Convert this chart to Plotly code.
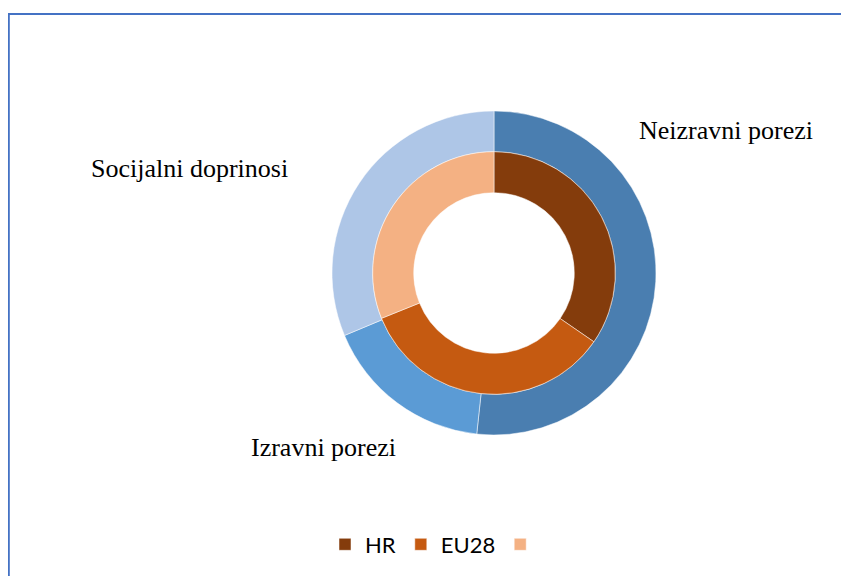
import plotly.graph_objects as go

# Outer ring (blue) categories and shares
outer_labels = ["Neizravni porezi", "Izravni porezi", "Socijalni doprinosi"]
outer_values = [51.7, 17.0, 31.3]
outer_colors = ["#4A7EB0", "#5B9BD5", "#AEC6E7"]

# Inner ring (orange) categories and shares
inner_labels = ["HR", "EU28", " "]
inner_values = [34.6, 34.3, 31.1]
inner_colors = ["#843C0C", "#C55A11", "#F4B183"]

OFF = 8  # page body margin
W, H = 849 - OFF, 576 - OFF
cx, cy = 494 - OFF, 273 - OFF
r_out, r_mid, r_in = 162, 121.3, 80.3


def px(x):
    return (x - OFF) / W


def py(y):
    return 1 - (y - OFF) / H


def dom(r):
    return dict(x=[(cx - r) / W, (cx + r) / W], y=[1 - (cy + r) / H, 1 - (cy - r) / H])


fig = go.Figure()
fig.add_trace(go.Pie(
    labels=outer_labels, values=outer_values, sort=False, direction="clockwise", rotation=0,
    hole=r_mid / r_out, domain=dom(r_out), textinfo="none", hoverinfo="label+value",
    marker=dict(colors=outer_colors, line=dict(color="white", width=0.5)),
    showlegend=False,
))
fig.add_trace(go.Pie(
    labels=inner_labels, values=inner_values, sort=False, direction="clockwise", rotation=0,
    hole=r_in / r_mid, domain=dom(r_mid), textinfo="none", hoverinfo="label+value",
    marker=dict(colors=inner_colors, line=dict(color="white", width=0.5)),
    showlegend=True,
))

# Category labels placed outside the outer ring
label_pos = [(726, 130), (323.5, 447), (189.5, 168)]
for txt, (lx, ly) in zip(outer_labels, label_pos):
    fig.add_annotation(x=px(lx), y=py(ly), xref="paper", yref="paper", text=txt,
                       showarrow=False, xanchor="center", yanchor="middle",
                       font=dict(family="Liberation Serif", size=26, color="black"))

# Chart-area border (top and left edges visible; right/bottom run off the page)
border = dict(color="#4472C4", width=2.2)
fig.add_shape(type="line", xref="paper", yref="paper",
              x0=px(7.6), x1=1.2, y0=py(14), y1=py(14), line=border)
fig.add_shape(type="line", xref="paper", yref="paper",
              x0=px(8.7), x1=px(8.7), y0=py(13), y1=-0.2, line=border)

fig.update_layout(
    width=W, height=H, margin=dict(l=0, r=0, t=0, b=0),
    paper_bgcolor="white", plot_bgcolor="white",
    legend=dict(orientation="h", x=px(438), xanchor="center", y=py(544.5), yanchor="middle",
                font=dict(family="Lato", size=22, color="black"), itemwidth=30,
                traceorder="normal"),
)

fig.write_html("out.html")
